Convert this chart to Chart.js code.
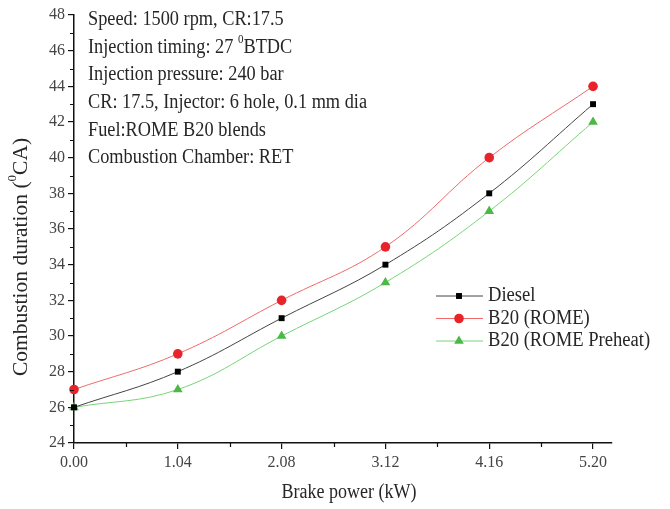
<!DOCTYPE html>
<html>
<head>
<meta charset="utf-8">
<script src="https://cdn.jsdelivr.net/npm/chart.js@4/dist/chart.umd.min.js"></script>
<style>
  html, body { margin: 0; padding: 0; background: #fff; }
  #wrap { width: 670px; height: 509px; }
</style>
</head>
<body>
<div id="wrap"><canvas id="myChart" width="670" height="509"></canvas></div>
<script>
// datos
const xValues = [0, 1.04, 2.08, 3.12, 4.16, 5.20];
const diesel = [26, 28, 31, 34, 38, 43];
const rome = [27, 29, 32, 35, 40, 44];
const romePreheat = [26, 27, 30, 33, 37, 42];
const xTicks = [0, 1.04, 2.08, 3.12, 4.16, 5.20];
const xMinor = [0.52, 1.56, 2.60, 3.64, 4.68];
const yMinor = [25, 27, 29, 31, 33, 35, 37, 39, 41, 43, 45, 47];
const notes = [
    ['Speed: 1500 rpm, CR:17.5'],
    ['Injection timing: 27 ', '0', 'BTDC'],
    ['Injection pressure: 240 bar'],
    ['CR: 17.5, Injector: 6 hole, 0.1 mm dia'],
    ['Fuel:ROME B20 blends'],
    ['Combustion Chamber: RET']
];

const SERIF = '"Liberation Serif", "Times New Roman", serif';
const TEXT = '#262626';

function toPoints(ys) {
    return ys.map((y, i) => ({ x: xValues[i], y: y }));
}

function partsWidth(ctx, parts, size) {
    let w = 0;
    parts.forEach((p, i) => {
        ctx.font = (i % 2 ? Math.round(size * 0.6) : size) + 'px ' + SERIF;
        w += ctx.measureText(p).width;
    });
    return w;
}

// texto con superindice: [normal, sup, normal], estrechado en x
function drawParts(ctx, parts, x, y, size, sx) {
    ctx.save();
    ctx.translate(x, y);
    ctx.scale(sx, 1);
    let cx = 0;
    parts.forEach((p, i) => {
        if (i % 2 === 1) {
            ctx.font = Math.round(size * 0.6) + 'px ' + SERIF;
            ctx.fillText(p, cx, -size * 0.38);
        } else {
            ctx.font = size + 'px ' + SERIF;
            ctx.fillText(p, cx, 0);
        }
        cx += ctx.measureText(p).width;
    });
    ctx.restore();
}

const extras = {
    id: 'extras',
    afterDraw(chart) {
        const ctx = chart.ctx;
        const xs = chart.scales.x, ys = chart.scales.y;
        const area = chart.chartArea;
        ctx.save();
        ctx.strokeStyle = '#111';
        ctx.lineWidth = 1.2;
        // ticks menores
        ctx.beginPath();
        yMinor.forEach(v => {
            const py = Math.round(ys.getPixelForValue(v)) + 0.5;
            ctx.moveTo(area.left, py); ctx.lineTo(area.left - 4, py);
        });
        xMinor.forEach(v => {
            const px = Math.round(xs.getPixelForValue(v)) + 0.5;
            ctx.moveTo(px, area.bottom); ctx.lineTo(px, area.bottom + 4);
        });
        ctx.stroke();

        // notas
        ctx.fillStyle = TEXT;
        ctx.textBaseline = 'middle';
        ctx.textAlign = 'left';
        notes.forEach((parts, i) => {
            drawParts(ctx, parts, area.left + 14, 20 + i * 27.6, 20, 0.915);
        });

        // titulo eje y
        ctx.save();
        ctx.translate(21, 257);
        ctx.rotate(-Math.PI / 2);
        const tparts = ['Combustion duration (', '0', 'CA)'];
        const w = partsWidth(ctx, tparts, 21.5);
        drawParts(ctx, tparts, -w / 2, 0, 21.5, 1);
        ctx.restore();

        // titulo eje x
        const xt = ['Brake power (kW)'];
        const xw = partsWidth(ctx, xt, 20) * 0.9;
        drawParts(ctx, xt, 349 - xw / 2, 493, 20, 0.9);

        // leyenda
        chart.data.datasets.forEach((ds, i) => {
            const ly = 296 + i * 22.5;
            ctx.strokeStyle = ds.borderColor;
            ctx.lineWidth = 1;
            ctx.beginPath();
            ctx.moveTo(436, ly); ctx.lineTo(483, ly);
            ctx.stroke();
            ctx.fillStyle = ds.pointBackgroundColor;
            ctx.strokeStyle = ds.pointBackgroundColor;
            Chart.helpers.drawPoint(ctx, { pointStyle: ds.pointStyle, radius: ds.pointRadius, rotation: 0, borderWidth: 0 }, 459, ly);
            ctx.fillStyle = TEXT;
            drawParts(ctx, [ds.label], 488, ly, 20, 0.93);
        });
        ctx.restore();
    }
};

const ctx = document.getElementById('myChart').getContext('2d');
new Chart(ctx, {
    type: 'line',
    data: {
        datasets: [{
            label: 'Diesel',
            data: toPoints(diesel),
            borderColor: '#444',
            borderWidth: 1,
            pointStyle: 'rect',
            pointRadius: 4.2,
            pointBackgroundColor: '#000',
            pointBorderWidth: 0,
            tension: 0.4,
            clip: false
        }, {
            label: 'B20 (ROME)',
            data: toPoints(rome),
            borderColor: '#f06a6a',
            borderWidth: 1,
            pointStyle: 'circle',
            pointRadius: 4.8,
            pointBackgroundColor: '#e8242a',
            pointBorderWidth: 0,
            tension: 0.4,
            clip: false
        }, {
            label: 'B20 (ROME Preheat)',
            data: toPoints(romePreheat),
            borderColor: '#78d478',
            borderWidth: 1,
            pointStyle: 'triangle',
            pointRadius: 5.6,
            pointBackgroundColor: '#4cb848',
            pointBorderWidth: 0,
            tension: 0.4,
            clip: false
        }]
    },
    options: {
        responsive: false,
        animation: false,
        layout: { padding: { top: 15, right: 58, left: 0, bottom: 0 } },
        plugins: { legend: { display: false }, tooltip: { enabled: false } },
        scales: {
            x: {
                type: 'linear',
                min: 0,
                max: 5.39,
                afterBuildTicks: s => { s.ticks = xTicks.map(v => ({ value: v })); },
                afterFit: s => { s.height = 66; },
                ticks: {
                    callback: v => v.toFixed(2),
                    font: { family: SERIF, size: 16 },
                    color: '#444',
                    padding: 4,
                    maxRotation: 0
                },
                grid: { drawOnChartArea: false, drawTicks: true, tickLength: 6, color: '#111', lineWidth: 1.2 },
                border: { display: true, color: '#111', width: 1.5 }
            },
            y: {
                min: 24,
                max: 48,
                afterFit: s => { s.width = 74; },
                ticks: {
                    stepSize: 2,
                    font: { family: SERIF, size: 16 },
                    color: '#444',
                    padding: 3
                },
                grid: { drawOnChartArea: false, drawTicks: true, tickLength: 6, color: '#111', lineWidth: 1.2 },
                border: { display: true, color: '#111', width: 1.5 }
            }
        }
    },
    plugins: [extras]
});
</script>
</body>
</html>
